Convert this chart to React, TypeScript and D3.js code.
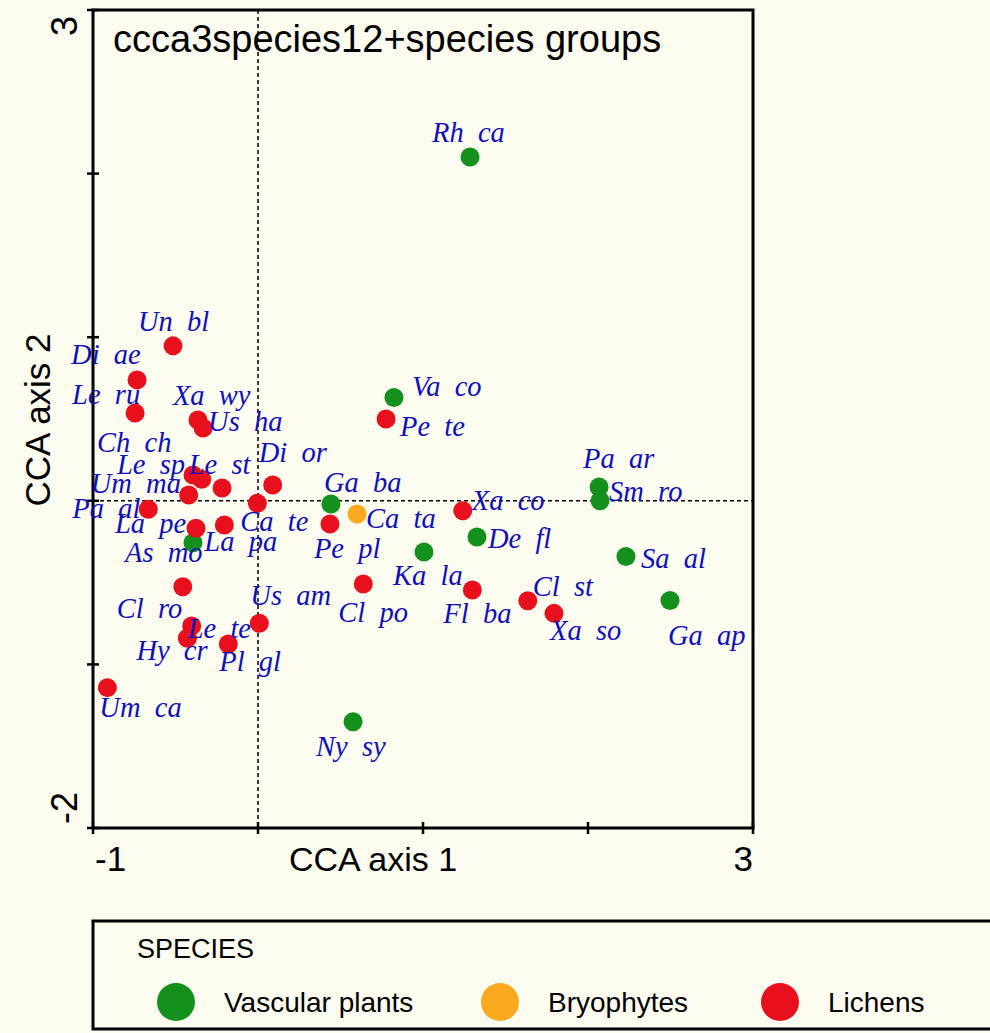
import React from 'react';
import * as d3 from 'd3';

// CCA species scores (axis 1, axis 2) with their group
const speciesCodes = [
  'Rh  ca', 'Va  co', 'Ga  ba', 'Pa  ar', 'Sm  ro', 'De  fl', 'Ka  la', 'Sa  al', 'Ga  ap', 'Ny  sy', 'As  mo',
  'Ca  ta',
  'Un  bl', 'Di  ae', 'Le  ru', 'Xa  wy', 'Us  ha', 'Ch  ch', 'Le  sp', 'Le  st', 'Um  ma', 'Di  or', 'Ca  te',
  'Pa  al', 'La  pe', 'La  pa', 'Pe  te', 'Pe  pl', 'Xa  co', 'Cl  ro', 'Le  te', 'Hy  cr', 'Pl  gl', 'Us  am',
  'Um  ca', 'Cl  po', 'Fl  ba', 'Cl  st', 'Xa  so',
];
const axis1Scores = [
  1.285, 0.824, 0.442, 2.067, 2.073, 1.327, 1.006, 2.230, 2.497, 0.576, -0.394,
  0.600,
  -0.515, -0.733, -0.745, -0.364, -0.333, -0.218, -0.394, -0.341, -0.420, 0.089, -0.004,
  -0.665, -0.376, -0.204, 0.776, 0.436, 1.241, -0.456, -0.402, -0.428, -0.180, 0.008,
  -0.913, 0.638, 1.299, 1.635, 1.794,
];
const axis2Scores = [
  2.101, 0.631, -0.020, 0.084, 0.000, -0.221, -0.313, -0.340, -0.609, -1.350, -0.256,
  -0.081,
  0.947, 0.739, 0.537, 0.494, 0.445, 0.078, 0.158, 0.131, 0.035, 0.097, -0.015,
  -0.052, -0.168, -0.148, 0.500, -0.142, -0.061, -0.525, -0.765, -0.840, -0.875, -0.749,
  -1.142, -0.509, -0.545, -0.611, -0.688,
];
const speciesGroup = [
  0, 0, 0, 0, 0, 0, 0, 0, 0, 0, 0,
  1,
  2, 2, 2, 2, 2, 2, 2, 2, 2, 2, 2,
  2, 2, 2, 2, 2, 2, 2, 2, 2, 2, 2,
  2, 2, 2, 2, 2,
];
const groupNames = ['Vascular plants', 'Bryophytes', 'Lichens'];
const groupColors = ['#14901c', '#fba91e', '#e8101c'];

const xTickValues = [-1, 0, 1, 2, 3];
const yTickValues = [-2, -1, 0, 1, 2, 3];

const chartTitle = 'ccca3species12+species groups';
const xAxisTitle = 'CCA axis 1';
const yAxisTitle = 'CCA axis 2';
const legendTitle = 'SPECIES';

// label placement relative to each symbol (pixels: left edge, baseline)
const labelOffsets: [number, number][] = [
  [-38, -15], [18, -2], [-7, -12], [-16, -19], [9, 0], [11, 11], [-31, 33], [15, 12], [-2, 45], [-37, 34], [-68, 19],
  [9, 14],
  [-35, -15], [-66, -16], [-63, -9], [-25, -15], [5, 3], [-125, -36], [-76, -1], [-13, -5], [-98, -2], [-14, -23], [-17, 28],
  [-76, 9], [-81, 5], [-20, 26], [14, 17], [-16, 34], [9, -1], [-66, 31], [-4, 12], [-51, 22], [-9, 27], [-9, -18],
  [-8, 29], [-25, 38], [-29, 33], [5, -5], [-4, 27],
];

const W = 990;
const H = 1033;
const plot = { left: 93, right: 753, top: 10, bottom: 828 };
const bg = '#fbfbf0';
const sans = 'Arial, "Liberation Sans", Helvetica, sans-serif';
const serif = '"Times New Roman", "Liberation Serif", serif';

export default function App() {
  const x = d3.scaleLinear().domain([-1, 3]).range([plot.left, plot.right]);
  const y = d3.scaleLinear().domain([-2, 3]).range([plot.bottom, plot.top]);

  const points = speciesCodes.map((code, i) => ({
    code,
    px: x(axis1Scores[i]),
    py: y(axis2Scores[i]),
    color: groupColors[speciesGroup[i]],
    off: labelOffsets[i],
  }));

  const legendItems = groupNames.map((name, i) => ({ name, color: groupColors[i] }));
  const legendX = [176, 500, 780];

  return (
    <svg width={W} height={H} style={{ position: 'absolute', left: 0, top: 0, background: bg }}>
      <rect x={0} y={0} width={W} height={H} fill={bg} />

      {/* origin reference lines */}
      <line x1={x(0)} x2={x(0)} y1={plot.top} y2={plot.bottom} stroke="#000" strokeWidth={1.5} strokeDasharray="4 3" />
      <line x1={plot.left} x2={plot.right} y1={y(0)} y2={y(0)} stroke="#000" strokeWidth={1.5} strokeDasharray="4 3" />

      {/* frame */}
      <rect x={plot.left} y={plot.top} width={plot.right - plot.left} height={plot.bottom - plot.top}
        fill="none" stroke="#000" strokeWidth={3} />

      {/* ticks */}
      {yTickValues.map((v) => (
        <line key={'yt' + v} x1={plot.left - 6} x2={plot.left + 6} y1={y(v)} y2={y(v)} stroke="#000" strokeWidth={2.5} />
      ))}
      {xTickValues.map((v) => (
        <line key={'xt' + v} x1={x(v)} x2={x(v)} y1={plot.bottom - 6} y2={plot.bottom + 6} stroke="#000" strokeWidth={2.5} />
      ))}

      {/* tick labels at the axis ends */}
      <text x={x(xTickValues[0]) + 2} y={871} fontFamily={sans} fontSize={35} textAnchor="start">{String(xTickValues[0])}</text>
      <text x={x(xTickValues[xTickValues.length - 1])} y={871} fontFamily={sans} fontSize={35} textAnchor="end">
        {String(xTickValues[xTickValues.length - 1])}
      </text>
      <text transform={`translate(77,${y(yTickValues[yTickValues.length - 1]) + 6}) rotate(-90)`} fontFamily={sans}
        fontSize={36} textAnchor="end">{String(yTickValues[yTickValues.length - 1])}</text>
      <text transform={`translate(77,${y(yTickValues[0]) - 4}) rotate(-90)`} fontFamily={sans}
        fontSize={36} textAnchor="start">{String(yTickValues[0])}</text>

      {/* axis titles */}
      <text x={373} y={871} fontFamily={sans} fontSize={34} textAnchor="middle">{xAxisTitle}</text>
      <text transform={`translate(50,420) rotate(-90)`} fontFamily={sans} fontSize={35} textAnchor="middle">{yAxisTitle}</text>

      {/* chart title */}
      <text x={113} y={52} fontFamily={sans} fontSize={38}>{chartTitle}</text>

      {/* species symbols */}
      {points.map((p) => (
        <circle key={'c' + p.code} cx={p.px} cy={p.py} r={9.5} fill={p.color} />
      ))}
      {/* species labels */}
      {points.map((p) => (
        <text key={'t' + p.code} x={p.px + p.off[0]} y={p.py + p.off[1]} fontFamily={serif} fontStyle="italic"
          fontSize={28.5} fill="#1010b8" style={{ whiteSpace: 'pre' }}>{p.code}</text>
      ))}

      {/* legend */}
      <rect x={93} y={921} width={W} height={108} fill="none" stroke="#000" strokeWidth={3} />
      <text x={137} y={958} fontFamily={sans} fontSize={27}>{legendTitle}</text>
      {legendItems.map((it, i) => (
        <g key={it.name}>
          <circle cx={legendX[i]} cy={1002} r={19} fill={it.color} />
          <text x={legendX[i] + 48} y={1012} fontFamily={sans} fontSize={28}>{it.name}</text>
        </g>
      ))}
    </svg>
  );
}
